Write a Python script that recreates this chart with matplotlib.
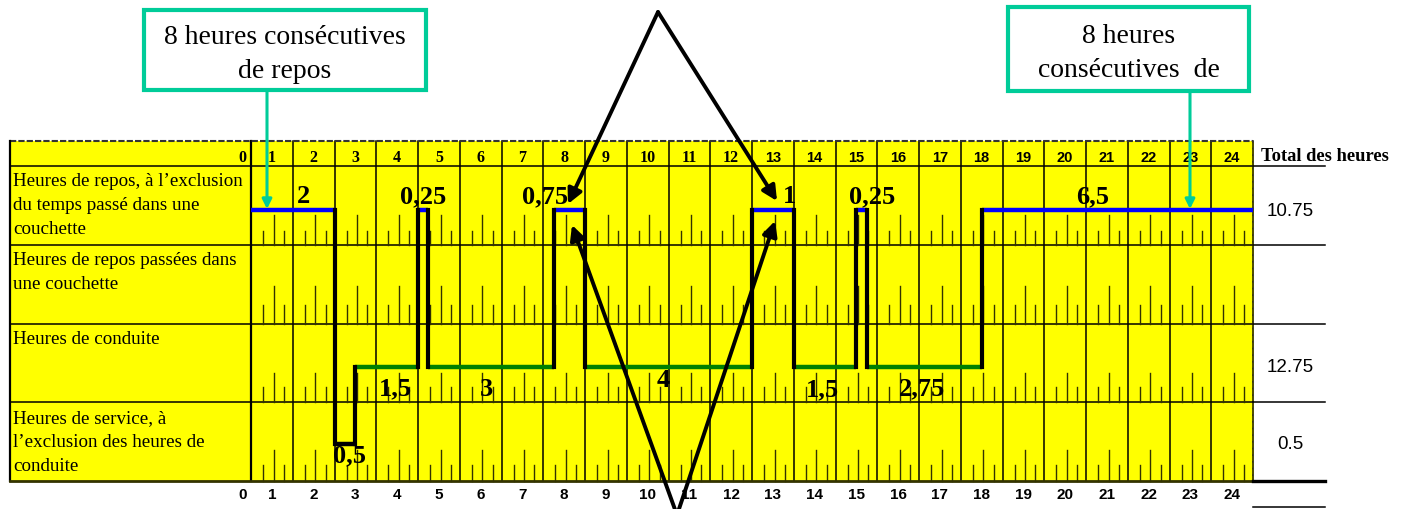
import numpy as np
import matplotlib.pyplot as plt
from matplotlib.patches import Rectangle

# données du relevé (24 h)
activites = ['repos', 'service', 'conduite', 'repos', 'conduite', 'repos',
             'conduite', 'repos', 'conduite', 'repos', 'conduite', 'repos']
durees = [2, 0.5, 1.5, 0.25, 3, 0.75, 4, 1, 1.5, 0.25, 2.75, 6.5]
etiquettes = ['2', '0,5', '1,5', '0,25', '3', '0,75', '4', '1', '1,5', '0,25', '2,75', '6,5']

lignes = ['repos', 'couchette', 'conduite', 'service']
libelles = ["Heures de repos, à l’exclusion\ndu temps passé dans une\ncouchette",
            "Heures de repos passées dans\nune couchette",
            "Heures de conduite",
            "Heures de service, à\nl’exclusion des heures de\nconduite"]
heures = list(range(25))
titre_total = 'Total des heures'
texte_boite1 = "8 heures consécutives\nde repos"
texte_boite2 = "8 heures\nconsécutives  de"

# mise en page (pixels de l'image -> unités heures / lignes)
PX_H, PX_R, X0, Y0 = 41.75, 78.75, 251, 482
def hx(px):
    return (px - X0) / PX_H
def ry(py):
    return (Y0 - py) / PX_R

niveau = {'repos': 3.44, 'couchette': 2.45, 'conduite': 1.45, 'service': 0.47}
couleur = {'repos': '#0000FF', 'conduite': '#008000', 'service': 'black'}
# décalage des étiquettes par rapport au milieu du segment
lab_dx = [0.25, 0.1, 0.2, 0.0, -0.1, -0.58, -0.13, 0.4, -0.07, 0.25, -0.05, -0.58]
lab_dy = [0.18, -0.14, -0.27, 0.18, -0.27, 0.18, -0.16, 0.18, -0.28, 0.18, -0.27, 0.18]

fig = plt.figure(figsize=(14.06, 5.10), dpi=100)
ax = fig.add_axes([0, 0, 1, 1])
ax.set_xlim(hx(0), hx(1406))
ax.set_ylim(ry(510), ry(0))
ax.axis('off')

gauche = hx(10)
haut = ry(142)
ax.add_patch(Rectangle((gauche, 0), 24 - gauche, haut, facecolor='#FFFF00',
                       edgecolor='none', zorder=0))

# grille
for h in heures:
    ax.plot([h, h], [0, haut], color='black', lw=1.6 if h == 0 else 1.1, zorder=1)
for k in range(1, 5):
    ax.plot([gauche, 24], [k, k], color='black', lw=1.1, zorder=1)
ax.plot([gauche, 24], [haut, haut], color='#333333', lw=1.5, ls=(0, (3, 1)), zorder=1)
ax.plot([gauche, gauche], [0, haut], color='black', lw=1.6, zorder=1)
ax.plot([24, 24], [0, haut], color='#555500', lw=1.2, ls=(0, (3, 1)), zorder=1)
ax.plot([gauche, 24], [0, 0], color='#333300', lw=2, zorder=1)

# graduations dans chaque ligne
court = [0.18, 0.23, 0.19, 0.2]
long_ = [0.38, 0.47, 0.37, 0.39]
for i in range(4):
    base = 3 - i
    for h in range(24):
        for q, l in ((0.25, court[i]), (0.5, long_[i]), (0.75, court[i])):
            x = h + q + 0.04
            ax.plot([x, x], [base, base + l], color='#333300', lw=1.0, zorder=1)

# libellés des lignes
for i, txt in enumerate(libelles):
    y_top = 4 - i - (182 - 167) / PX_R
    for j, ligne in enumerate(txt.split('\n')):
        ax.text(hx(13), y_top - j * 24 / PX_R, ligne, fontsize=13.7,
                family='Liberation Serif', va='center', ha='left', zorder=3)

# heures : en-tête et bas
for h in heures:
    xp = -0.2 if h == 0 else h - 0.5
    fam = 'Liberation Serif' if h <= 12 else 'Liberation Sans'
    ax.text(xp, ry(158), str(h), fontsize=11.5 if h <= 12 else 10.5,
            fontweight='bold', family=fam, ha='center', va='center', zorder=3)
    ax.text(xp, ry(495), str(h), fontsize=11, fontweight='bold',
            family='Liberation Sans', ha='center', va='center', zorder=3)

# tracé des activités
fins = np.cumsum(durees)
debuts = fins - np.array(durees)
for i, act in enumerate(activites):
    y = niveau[act]
    ax.plot([debuts[i], fins[i]], [y, y], color=couleur[act], lw=3.2,
             solid_capstyle='butt', zorder=4)
    if i > 0:
        ax.plot([debuts[i], debuts[i]], [niveau[activites[i - 1]], y],
                color='black', lw=3.0, solid_capstyle='projecting', zorder=5)
    ax.text((debuts[i] + fins[i]) / 2 + lab_dx[i], y + lab_dy[i], etiquettes[i],
            fontsize=19, fontweight='bold', family='Liberation Serif',
            ha='center', va='center', zorder=6)

# colonne des totaux
ax.text(hx(1261), ry(157), titre_total, fontsize=13.3, fontweight='bold',
        family='Liberation Serif', ha='left', va='center')
droite = hx(1325)
for k in range(1, 5):
    ax.plot([24, droite], [k, k], color='black', lw=1.1)
ax.plot([24, droite], [0, 0], color='black', lw=2.4)
ax.plot([24, droite], [ry(508), ry(508)], color='black', lw=1.1)
for i, nom in enumerate(lignes):
    tot = sum(d for a, d in zip(activites, durees) if a == nom)
    if tot:
        ax.text(hx(1290), niveau[nom], f'{tot:g}', fontsize=13.5,
                family='Liberation Sans', ha='center', va='center')

# encadrés "8 heures consécutives"
teal = '#00CC99'
for (x1, y1, x2, y2), txt, xa in (((144, 11, 426, 91), texte_boite1, 267),
                                  ((1008, 8, 1249, 92), texte_boite2, 1190)):
    ax.add_patch(Rectangle((hx(x1), ry(y2)), hx(x2) - hx(x1), ry(y1) - ry(y2),
                           facecolor='white', edgecolor=teal, lw=3, zorder=6))
    ax.text((hx(x1) + hx(x2)) / 2, (ry(y1) + ry(y2)) / 2 - 0.045, txt, fontsize=20,
            family='Liberation Serif', ha='center', va='center',
            linespacing=1.5, zorder=7)
    ax.annotate('', xy=(hx(xa), ry(210)), xytext=(hx(xa), ry(y2 + 1)),
                arrowprops=dict(arrowstyle='-|>', color=teal, lw=2.2,
                                mutation_scale=14, shrinkA=0, shrinkB=0),
                zorder=7)

# flèches noires
fl = dict(arrowstyle='-|>', color='black', lw=2.8, mutation_scale=22,
          shrinkA=0, shrinkB=0)
for (xa, ya), (xb, yb) in (((658, 13), (568, 205)), ((658, 13), (777, 202)),
                           ((677, 516), (572, 226)), ((677, 516), (775, 222))):
    ax.annotate('', xy=(hx(xb), ry(yb)), xytext=(hx(xa), ry(ya)),
                arrowprops=fl, zorder=8)

fig.savefig('out.png', dpi=100)
